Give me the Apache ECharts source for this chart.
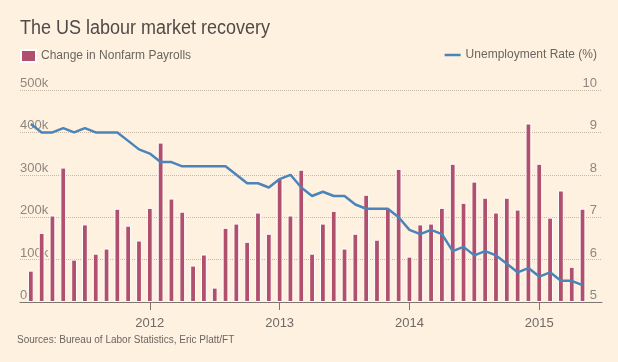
<!DOCTYPE html>
<html><head><meta charset="utf-8">
<script src="https://cdn.jsdelivr.net/npm/echarts@6/dist/echarts.min.js"></script>
<style>html,body{margin:0;padding:0;background:#fff1e0}#c{width:618px;height:362px}</style>
</head><body><div id="c"></div>
<script>
// Months (data points), Feb 2011 – May 2015
const months = [
  '2011-02','2011-03','2011-04','2011-05','2011-06','2011-07','2011-08','2011-09','2011-10','2011-11','2011-12',
  '2012-01','2012-02','2012-03','2012-04','2012-05','2012-06','2012-07','2012-08','2012-09','2012-10','2012-11','2012-12',
  '2013-01','2013-02','2013-03','2013-04','2013-05','2013-06','2013-07','2013-08','2013-09','2013-10','2013-11','2013-12',
  '2014-01','2014-02','2014-03','2014-04','2014-05','2014-06','2014-07','2014-08','2014-09','2014-10','2014-11','2014-12',
  '2015-01','2015-02','2015-03','2015-04','2015-05'
];
// Change in nonfarm payrolls (thousands)
const payrolls = [
  74,163,204,317,100,183,114,126,220,180,145,
  222,376,244,213,86,112,34,175,185,142,211,161,
  290,204,312,114,185,215,126,161,253,147,222,314,
  107,183,185,222,326,234,284,246,211,246,218,421,
  326,199,263,83,220
];
// Unemployment rate (%)
const unemployment = [
  9.2,9.0,9.0,9.1,9.0,9.1,9.0,9.0,9.0,8.8,8.6,
  8.5,8.3,8.3,8.2,8.2,8.2,8.2,8.2,8.0,7.8,7.8,7.7,
  7.9,8.0,7.7,7.5,7.6,7.5,7.5,7.3,7.2,7.2,7.2,7.0,
  6.7,6.6,6.7,6.6,6.2,6.3,6.1,6.2,6.1,5.9,5.7,5.8,
  5.6,5.7,5.5,5.5,5.4
];
const yearTicks = ['2012','2013','2014','2015'];
const leftTicks = ['0k','100k','200k','300k','400k','500k'];
const rightTicks = ['5','6','7','8','9','10'];

const BASE_YEAR = 2011;
function monthIndex(s){ const [y,m] = s.split('-').map(Number); return (y-BASE_YEAR)*12 + (m-1); }
const yearIdx = yearTicks.map(y => (Number(y)-BASE_YEAR)*12);

const FONT = '"Liberation Sans",Arial,sans-serif';

const chart = echarts.init(document.getElementById('c'), null, {renderer:'canvas'});
chart.setOption({
  backgroundColor:'#fff1e0',
  animation:false,
  graphic:[
    {type:'text', x:20, y:18, scaleX:0.9, silent:true,
     style:{text:'The US labour market recovery', font:'20px "Liberation Sans", Arial, sans-serif',
            fill:'#4f4b48', verticalAlign:'top', align:'left'}},
    {type:'text', x:17, y:335, silent:true,
     style:{text:'Sources: Bureau of Labor Statistics, Eric Platt/FT', font:'10px "Liberation Sans", Arial, sans-serif',
            fill:'#6b6560', verticalAlign:'top', align:'left'}}
  ],
  legend:[
    {data:['Change in Nonfarm Payrolls'], left:20, top:49, padding:0, icon:'rect',
     itemWidth:15, itemHeight:12, selectedMode:false,
     textStyle:{fontFamily:FONT, fontSize:12, color:'#6b6560'}},
    {data:['Unemployment Rate (%)'], right:21, top:49, padding:0, icon:'rect',
     itemWidth:16, itemHeight:2.5, selectedMode:false,
     textStyle:{fontFamily:FONT, fontSize:12, color:'#6b6560', lineHeight:12}}
  ],
  grid:{left:20, right:16, top:90, bottom:60, containLabel:false},
  xAxis:{
    type:'value', min:0, max:53.8,
    axisLine:{lineStyle:{color:'#7d7670', width:1}},
    axisTick:{customValues:yearIdx, length:8, lineStyle:{color:'#7d7670'}},
    axisLabel:{customValues:yearIdx, formatter:v => yearTicks[yearIdx.indexOf(v)] || '',
      color:'#6e6a66', fontFamily:FONT, fontSize:13, margin:15},
    splitLine:{show:false}
  },
  yAxis:[
    {type:'value', min:0, max:500, interval:100, position:'left',
     axisLine:{show:false}, axisTick:{show:false},
     axisLabel:{inside:true, margin:0, verticalAlign:'bottom',
       formatter:(v)=>leftTicks[Math.round(v/100)],
       color:'#8e877f', fontFamily:FONT, fontSize:13},
     splitLine:{lineStyle:{type:'dotted', color:'#c8b8a6', width:1}}},
    {type:'value', min:5, max:10, interval:1, position:'right',
     axisLine:{show:false}, axisTick:{show:false},
     axisLabel:{inside:true, margin:5, verticalAlign:'bottom',
       formatter:(v)=>rightTicks[Math.round(v-5)],
       color:'#8e877f', fontFamily:FONT, fontSize:13},
     splitLine:{show:false}}
  ],
  series:[
    {name:'Change in Nonfarm Payrolls', type:'bar', yAxisIndex:0, barWidth:5.8,
     itemStyle:{color:'#b0506c', borderColor:'#ffffff', borderWidth:1},
     data: months.map((m,i)=>[monthIndex(m), payrolls[i]]), z:2},
    {name:'Unemployment Rate (%)', type:'line', yAxisIndex:1, symbol:'none',
     lineStyle:{color:'#4a84b8', width:2.5}, itemStyle:{color:'#4a84b8'},
     data: months.map((m,i)=>[monthIndex(m), unemployment[i]]), z:3}
  ]
});
</script></body></html>
